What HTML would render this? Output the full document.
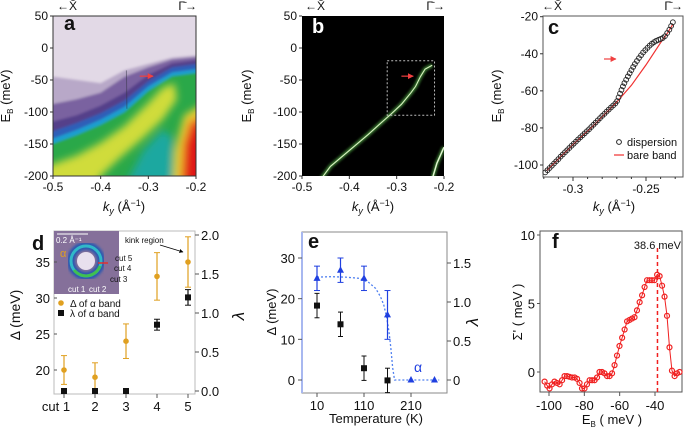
<!DOCTYPE html>
<html><head><meta charset="utf-8"><style>
body{margin:0;background:#fff;}
svg{display:block;font-family:"Liberation Sans",sans-serif;}
</style></head><body>
<svg id="fig" width="685" height="428" viewBox="0 0 685 428" xmlns="http://www.w3.org/2000/svg">
<defs>
<filter id="blur3"><feGaussianBlur stdDeviation="3"/></filter>
<filter id="blur1"><feGaussianBlur stdDeviation="1.2"/></filter>
<filter id="blur5" x="-20%" y="-20%" width="140%" height="140%"><feGaussianBlur stdDeviation="4"/></filter>
<clipPath id="clipA"><rect x="53" y="16" width="143" height="160"/></clipPath>
<clipPath id="clipB"><rect x="302" y="16" width="142" height="160"/></clipPath>
<clipPath id="clipIn"><rect x="54" y="231" width="65" height="63"/></clipPath>
<marker id="arrR" viewBox="0 0 10 10" refX="9" refY="5" markerWidth="5" markerHeight="5" orient="auto"><path d="M0,0L10,5L0,10z" fill="#f04040"/></marker>
<marker id="arrK" viewBox="0 0 10 10" refX="9" refY="5" markerWidth="5" markerHeight="5" orient="auto"><path d="M0,0L10,5L0,10z" fill="#000"/></marker>
</defs>
<g id="root"></g>
</svg>
<script>
// ---------- data ----------
// panel c
const cK=[-0.319,-0.3175,-0.316,-0.3145,-0.313,-0.3115,-0.310,-0.3085,-0.307,-0.3055,-0.304,-0.3025,-0.301,-0.2995,-0.298,-0.2965,-0.295,-0.2935,-0.292,-0.2905,-0.289,-0.2875,-0.286,-0.2845,-0.283,-0.2815,-0.280,-0.2785,-0.277,-0.2755,-0.274,-0.2725,-0.271,-0.2698,-0.2688,-0.2678,-0.2668,-0.2658,-0.2648,-0.2636,-0.2624,-0.2612,-0.26,-0.2588,-0.2576,-0.2562,-0.2548,-0.2534,-0.252,-0.2505,-0.249,-0.2475,-0.246,-0.2445,-0.243,-0.2415,-0.24,-0.2385,-0.237,-0.2355,-0.234,-0.2328,-0.2316];
const cE=[-104,-102.8,-101.6,-100.4,-99.2,-98,-96.8,-95.5,-94.3,-93.1,-92,-90.8,-89.6,-88.5,-87.4,-86.2,-85.1,-84,-82.9,-81.8,-80.7,-79.5,-78.3,-77.1,-75.9,-74.7,-73.5,-72.4,-71.2,-70.1,-69,-67.9,-66.8,-65.5,-63.5,-61.5,-59.5,-57.6,-55.8,-54,-52.2,-50.5,-48.8,-47.1,-45.5,-43.9,-42.3,-40.8,-39.3,-38,-36.8,-35.6,-34.6,-33.7,-33,-32.5,-32,-31.5,-30.5,-28.8,-27,-25,-23];
const bareK=[-0.318,-0.300,-0.285,-0.270,-0.260,-0.250,-0.245,-0.240,-0.235,-0.2315];
const bareE=[-103,-89,-78,-66,-57,-46,-40,-34,-28.5,-24];
const cXTicks=[-0.3,-0.25];
const cYTicks=[-20,-40,-60,-80,-100];
// panel d
const dCuts=["cut 1","2","3","4","5"];
const dDelta=[20,19,24,33,35];
const dDeltaErr=[2,2,2.4,3.3,3.5];
const dLambda=[0,0,0,0.85,1.2];
const dLambdaErr=[0,0,0,0.07,0.1];
const dYTicks=[20,25,30,35];
const dRTicks=[0,0.5,1.0,1.5,2.0];
// panel e
const eTemp=[10,60,110,160,210,260];
const eDelta=[25,27,25,16,0,0];
const eDeltaErr=[3,3,3,6,0,0];
const eBlackT=[10,60,110,160];
const eBlack=[18.3,13.7,2.9,-0.1];
const eBlackErr=[3,3,3,3];
const eFitT=[10,40,70,100,120,135,145,152,158,163,167,171,175,180,200,230,270];
const eFitD=[25.3,25.4,25.3,25,24,22.5,20.5,18.5,15.5,12,8,3,0,0,0,0,0];
const eXTicks=[10,110,210];
const eYTicks=[0,10,20,30];
const eRTicks=[0,0.5,1.0,1.5];
// panel f
const fE=[-102.5,-101,-99.7,-98.3,-96.9,-95.5,-94,-92.6,-91.2,-89.8,-88.4,-87,-85.5,-84.1,-82.7,-81.3,-79.9,-78.5,-77,-75.6,-74.2,-72.8,-71.4,-70,-68.6,-67.1,-65.7,-64.3,-62.9,-61.5,-60.1,-58.6,-57.2,-55.8,-54.4,-53,-51.6,-50.2,-48.7,-47.3,-45.9,-44.5,-43.1,-41.7,-40.3,-38.8,-37.4,-36,-34.6,-33.2,-31.8,-30.4,-28.9,-27.5,-26.1];
const fS=[-0.7,-1.0,-1.2,-0.9,-0.7,-0.8,-0.9,-0.6,-0.3,-0.3,-0.35,-0.4,-0.4,-0.5,-0.8,-1.2,-1.2,-0.9,-0.6,-0.6,-0.6,-0.4,0.0,0.0,-0.1,-0.3,-0.3,-0.1,0.5,1.2,1.9,2.5,3.1,3.7,3.8,3.9,4.0,4.5,5.1,5.6,6.2,6.7,6.7,6.7,6.7,7.1,7.0,6.3,5.5,4.1,1.8,0.1,-0.3,-0.1,0.0];
const fXTicks=[-100,-80,-60,-40];
const fYTicks=[0,5,10];
const fPeak=-38.6;

// ---------- helpers ----------
const NS="http://www.w3.org/2000/svg";
const root=document.getElementById('root');
function mk(tag,attrs,parent,text){const e=document.createElementNS(NS,tag);for(const k in attrs)e.setAttribute(k,attrs[k]);if(text!==undefined)e.textContent=text;(parent||root).appendChild(e);return e;}
function lin(d0,d1,p0,p1){return v=>p0+(v-d0)*(p1-p0)/(d1-d0);}
function txt(x,y,s,size,anchor,parent,extra){const t=mk('text',Object.assign({x:x,y:y,'font-size':size,'text-anchor':anchor||'middle',fill:'#111'},extra||{}),parent,s);return t;}
function ylabel(x,y,parent,parts,size){const t=mk('text',{x:0,y:0,'font-size':size||13,'text-anchor':'middle',transform:`translate(${x},${y}) rotate(-90)`,fill:'#111'},parent);parts.forEach(p=>{const s=mk('tspan',p.a||{},t,p.t);});return t;}
function topArrows(x0,x1,parent){txt(x0,10,"←X̄",12,'start',parent);txt(x1,10,"Γ̄→",12,'end',parent);}
function kLabel(cx,y,parent){const t=mk('text',{x:cx,y:y,'font-size':13,'text-anchor':'middle',fill:'#111'},parent);mk('tspan',{'font-style':'italic'},t,'k');mk('tspan',{'font-size':9,dy:3,'font-style':'italic'},t,'y');mk('tspan',{dy:-3},t,' (Å');mk('tspan',{'font-size':9,dy:-5},t,'−1');mk('tspan',{dy:5},t,')');}
function ebLabel(x,y,parent){const t=mk('text',{x:0,y:0,'font-size':13,'text-anchor':'middle',transform:`translate(${x},${y}) rotate(-90)`,fill:'#111'},parent);mk('tspan',{},t,'E');mk('tspan',{'font-size':8,dy:3},t,'B');mk('tspan',{dy:-3},t,' (meV)');}

// ---------- panel a ----------
(function(){
const g=mk('g',{},root);
const X=lin(-0.5,-0.2,53,196),Y=lin(50,-200,16,176);
const img=mk('g',{'clip-path':'url(#clipA)'},g);
mk('rect',{x:53,y:16,width:143,height:160,fill:'#e2d9e6'},img);
const P=pts=>pts.map(p=>X(p[0])+','+Y(p[1])).join(' ');
const bl=mk('g',{filter:'url(#blur1)'},img);
mk('polygon',{points:P([[-0.5,-45],[-0.45,-50],[-0.4,-55],[-0.35,-35],[-0.3,-25],[-0.25,-15],[-0.17,-10],[-0.17,-230],[-0.55,-230]]),fill:'#b8a8c8'},bl);
mk('polygon',{points:P([[-0.55,-95],[-0.45,-80],[-0.4,-70],[-0.35,-45],[-0.3,-30],[-0.25,-18],[-0.17,-12],[-0.17,-230],[-0.55,-230]]),fill:'#7a62a0'},bl);
mk('polygon',{points:P([[-0.55,-125],[-0.45,-105],[-0.4,-90],[-0.35,-70],[-0.3,-42],[-0.25,-24],[-0.17,-16],[-0.17,-230],[-0.55,-230]]),fill:'#55408a'},bl);
mk('polygon',{points:P([[-0.55,-143],[-0.45,-117],[-0.4,-102],[-0.35,-82],[-0.3,-52],[-0.25,-30],[-0.17,-22],[-0.17,-230],[-0.55,-230]]),fill:'#2f5fb8'},bl);
mk('polygon',{points:P([[-0.55,-155],[-0.45,-128],[-0.4,-112],[-0.35,-92],[-0.3,-60],[-0.25,-38],[-0.17,-30],[-0.17,-230],[-0.55,-230]]),fill:'#1a9fd0'},bl);
mk('polygon',{points:P([[-0.55,-163],[-0.45,-136],[-0.4,-120],[-0.35,-100],[-0.3,-67],[-0.25,-44],[-0.17,-36],[-0.17,-230],[-0.55,-230]]),fill:'#2aa84a'},bl);
const bb=mk('g',{filter:'url(#blur5)'},img);
mk('polygon',{points:P([[-0.55,-195],[-0.45,-168],[-0.4,-148],[-0.35,-122],[-0.3,-86],[-0.27,-62],[-0.245,-55],[-0.24,-80],[-0.27,-112],[-0.31,-140],[-0.36,-172],[-0.4,-200],[-0.42,-230],[-0.55,-230]]),fill:'#d0dc3a'},bb);
mk('polygon',{points:P([[-0.36,-230],[-0.31,-160],[-0.27,-128],[-0.25,-140],[-0.25,-230]]),fill:'#1aa8a0'},bb);
mk('polygon',{points:P([[-0.25,-230],[-0.245,-160],[-0.225,-105],[-0.17,-80],[-0.17,-230]]),fill:'#e6d030'},bb);
mk('polygon',{points:P([[-0.235,-230],[-0.228,-150],[-0.215,-115],[-0.17,-100],[-0.17,-230]]),fill:'#ea7020'},bb);
mk('polygon',{points:P([[-0.225,-230],[-0.22,-150],[-0.205,-120],[-0.17,-110],[-0.17,-230]]),fill:'#e01818'},bb);
mk('line',{x1:X(-0.346),y1:Y(-35),x2:X(-0.345),y2:Y(-95),stroke:'#334',"stroke-width":1,opacity:0.5},img);
mk('line',{x1:X(-0.318),y1:Y(-44),x2:X(-0.29),y2:Y(-44),stroke:'#f04040','stroke-width':1.2,'marker-end':'url(#arrR)'},g);
mk('rect',{x:53,y:16,width:143,height:160,fill:'none',stroke:'#333','stroke-width':1},g);
[50,0,-50,-100,-150,-200].forEach(v=>{mk('line',{x1:50,y1:Y(v),x2:53,y2:Y(v),stroke:'#333'},g);txt(48,Y(v)+4,String(v),12,'end',g);});
[-0.5,-0.4,-0.3,-0.2].forEach(v=>{mk('line',{x1:X(v),y1:176,x2:X(v),y2:179,stroke:'#333'},g);txt(X(v),191,v.toFixed(1),12,'middle',g);});
txt(64,30,'a',20,'start',g,{'font-weight':'bold'});
topArrows(57,197,g);kLabel(124,211,g);ebLabel(10,96,g);
})();

// ---------- panel b ----------
(function(){
const g=mk('g',{},root);
const X=lin(-0.5,-0.2,302,444),Y=lin(50,-200,16,176);
const img=mk('g',{'clip-path':'url(#clipB)'},g);
mk('rect',{x:302,y:16,width:142,height:160,fill:'#000'},img);
const band=[[-0.46,-205],[-0.44,-185],[-0.4,-160],[-0.36,-135],[-0.33,-115],[-0.31,-102],[-0.29,-88],[-0.27,-70],[-0.26,-60],[-0.25,-45],[-0.24,-33],[-0.225,-27]];
const d=band.map((p,i)=>(i?'L':'M')+X(p[0])+','+Y(p[1])).join(' ');
mk('path',{d:d,stroke:'#3a7a30',"stroke-width":4,fill:'none',filter:'url(#blur1)'},img);
mk('path',{d:d,stroke:'#d8f0c0',"stroke-width":1.1,fill:'none'},img);
const b2=[[-0.225,-205],[-0.215,-180],[-0.2,-155]];
const d2=b2.map((p,i)=>(i?'L':'M')+X(p[0])+','+Y(p[1])).join(' ');
mk('path',{d:d2,stroke:'#3a7a30',"stroke-width":4,fill:'none',filter:'url(#blur1)'},img);
mk('path',{d:d2,stroke:'#e0f5d0',"stroke-width":1.5,fill:'none'},img);
mk('rect',{x:X(-0.32),y:Y(-20),width:X(-0.22)-X(-0.32),height:Y(-105)-Y(-20),fill:'none',stroke:'#bbb','stroke-dasharray':'2,2'},g);
mk('line',{x1:X(-0.29),y1:Y(-44),x2:X(-0.265),y2:Y(-44),stroke:'#f04040','stroke-width':1.2,'marker-end':'url(#arrR)'},g);
[50,0,-50,-100,-150,-200].forEach(v=>{mk('line',{x1:299,y1:Y(v),x2:302,y2:Y(v),stroke:'#333'},g);txt(297,Y(v)+4,String(v),12,'end',g);});
[-0.5,-0.4,-0.3,-0.2].forEach(v=>{mk('line',{x1:X(v),y1:176,x2:X(v),y2:179,stroke:'#333'},g);txt(X(v),191,v.toFixed(1),12,'middle',g);});
txt(312,33,'b',20,'start',g,{'font-weight':'bold',fill:'#fff'});
topArrows(305,445,g);kLabel(373,211,g);ebLabel(251,96,g);
})();

// ---------- panel c ----------
(function(){
const g=mk('g',{},root);
const X=lin(-0.3,-0.25,573,646),Y=lin(-20,-100,16.7,165);
mk('rect',{x:543,y:16,width:140,height:161,fill:'#fff',stroke:'#555'},g);
mk('path',{d:bareK.map((k,i)=>(i?'L':'M')+X(k)+','+Y(bareE[i])).join(' '),stroke:'#f03030',"stroke-width":1.2,fill:'none'},g);
cK.forEach((k,i)=>{const c=mk('circle',{cx:X(k),cy:Y(cE[i]),r:2.4,fill:'none',stroke:'#222','stroke-width':0.9},g);

});
mk('line',{x1:604,y1:59,x2:616,y2:59,stroke:'#f04040','stroke-width':1.2,'marker-end':'url(#arrR)'},g);
cYTicks.forEach(v=>{mk('line',{x1:540,y1:Y(v),x2:543,y2:Y(v),stroke:'#333'},g);txt(538,Y(v)+4,String(v),12,'end',g);});
for(let v=-0.32;v<=-0.225;v+=0.01){mk('line',{x1:X(v),y1:177,x2:X(v),y2:179,stroke:'#333'},g);}
cXTicks.forEach(v=>{mk('line',{x1:X(v),y1:177,x2:X(v),y2:181,stroke:'#333'},g);txt(X(v),193,String(v),12,'middle',g);});
txt(548,34,'c',20,'start',g,{'font-weight':'bold'});
const l=mk('g',{},g);
mk('circle',{cx:619,cy:142,r:2.4,fill:'none',stroke:'#222'},l);txt(627,146,'dispersion',11,'start',l);
mk('line',{x1:614,y1:155,x2:624,y2:155,stroke:'#f03030','stroke-width':1.2},l);txt(627,159,'bare band',11,'start',l);
topArrows(542,683,g);kLabel(614,211,g);ebLabel(501,96,g);
})();

// ---------- panel d ----------
(function(){
const g=mk('g',{},root);
const X=i=>64+i*31,Y=lin(20,35,370,262),R=lin(0,2,391,235);
mk('rect',{x:54,y:231,width:141,height:163,fill:'#fff',stroke:'#bbb'},g);
const ins=mk('g',{'clip-path':'url(#clipIn)'},g);
mk('rect',{x:54,y:231,width:65,height:63,fill:'#85709a'},ins);
mk('circle',{cx:86,cy:261,r:15,fill:'none',stroke:'#2a58b0','stroke-width':8,filter:'url(#blur1)'},ins);
mk('circle',{cx:86,cy:261,r:15,fill:'none',stroke:'#30b8c8','stroke-width':3},ins);
mk('path',{d:'M74,270 A15,15 0 0 0 100,266',fill:'none',stroke:'#40c050','stroke-width':3},ins);
mk('circle',{cx:86,cy:261,r:9,fill:'#e8e0ee'},ins);
mk('line',{x1:57,y1:234,x2:88,y2:234,stroke:'#fff','stroke-width':1},ins);
txt(56,243,'0.2 Å⁻¹',8,'start',ins,{fill:'#fff'});
txt(60,257,'α',11,'start',ins,{fill:'#e0a020'});
txt(68,292,'cut 1',8,'start',ins,{fill:'#fff'});txt(89,292,'cut 2',8,'start',ins,{fill:'#fff'});
mk('line',{x1:98,y1:263,x2:108,y2:263,stroke:'#e03030','stroke-width':1.5},ins);
txt(115,261,'cut 5',8,'start',g);txt(114,271,'cut 4',8,'start',g);txt(110,282,'cut 3',8,'start',g);
const l=mk('g',{},g);
mk('circle',{cx:61,cy:303,r:2.8,fill:'#e0a020'},l);txt(70,307,'Δ of α band',10,'start',l);
mk('rect',{x:58,y:310,width:6,height:6,fill:'#111'},l);txt(70,317,'λ of α band',10,'start',l);
txt(125,243,'kink region',8,'start',g);
mk('line',{x1:160,y1:245,x2:183,y2:252,stroke:'#000','stroke-width':0.8,'marker-end':'url(#arrK)'},g);
dDelta.forEach((v,i)=>{
 mk('line',{x1:X(i),y1:Y(v-dDeltaErr[i]),x2:X(i),y2:Y(v+dDeltaErr[i]),stroke:'#e0a020','stroke-width':1.2},g);
 [v-dDeltaErr[i],v+dDeltaErr[i]].forEach(e=>mk('line',{x1:X(i)-3,y1:Y(e),x2:X(i)+3,y2:Y(e),stroke:'#e0a020'},g));
 const c=mk('circle',{cx:X(i),cy:Y(v),r:2.8,fill:'#e0a020'},g);
 
 
});
dLambda.forEach((v,i)=>{
 if(dLambdaErr[i]>0){mk('line',{x1:X(i),y1:R(v-dLambdaErr[i]),x2:X(i),y2:R(v+dLambdaErr[i]),stroke:'#111','stroke-width':1.2},g);
 [v-dLambdaErr[i],v+dLambdaErr[i]].forEach(e=>mk('line',{x1:X(i)-3,y1:R(e),x2:X(i)+3,y2:R(e),stroke:'#111'},g));}
 const r=mk('rect',{x:X(i)-3,y:R(v)-3,width:6,height:6,fill:'#111'},g);
 
 
});
dYTicks.forEach(v=>{mk('line',{x1:54,y1:Y(v),x2:57,y2:Y(v),stroke:'#555'},g);txt(50,Y(v)+5,String(v),13,'end',g);});
dRTicks.forEach(v=>{mk('line',{x1:195,y1:R(v),x2:199,y2:R(v),stroke:'#555'},g);txt(201,R(v)+5,v.toFixed(1),13,'start',g);});
dCuts.forEach((c,i)=>{mk('line',{x1:X(i),y1:394,x2:X(i),y2:398,stroke:'#555'},g);txt(X(i)-(i===0?8:0),411,c,13,'middle',g);});
txt(32,250,'d',20,'start',g,{'font-weight':'bold'});
ylabel(20,315,g,[{t:'Δ (meV)'}],14);
ylabel(244,316,g,[{t:'λ',a:{'font-style':'italic'}}],17);
})();

// ---------- panel e ----------
(function(){
const g=mk('g',{},root);
const X=lin(10,210,317,411),Y=lin(0,30,380,258),R=lin(0,1.5,380,263);
mk('rect',{x:302,y:232,width:145,height:161,fill:'#fff',stroke:'#888'},g);
mk('line',{x1:302,y1:232,x2:302,y2:393,stroke:'#a8b8f0','stroke-width':2},g);
mk('path',{d:eFitT.map((t,i)=>(i?'L':'M')+X(t)+','+Y(eFitD[i])).join(' '),stroke:'#5080f0','stroke-width':1.3,'stroke-dasharray':'2,2',fill:'none'},g);
eBlack.forEach((v,i)=>{const x=X(eBlackT[i]);
 mk('line',{x1:x,y1:Y(v-eBlackErr[i]),x2:x,y2:Y(v+eBlackErr[i]),stroke:'#111'},g);
 [v-eBlackErr[i],v+eBlackErr[i]].forEach(e=>mk('line',{x1:x-2.5,y1:Y(e),x2:x+2.5,y2:Y(e),stroke:'#111'},g));
 const r=mk('rect',{x:x-3,y:Y(v)-3,width:6,height:6,fill:'#111'},g);
 
 });
eDelta.forEach((v,i)=>{const x=X(eTemp[i]);
 if(eDeltaErr[i]>0){mk('line',{x1:x,y1:Y(v-eDeltaErr[i]),x2:x,y2:Y(v+eDeltaErr[i]),stroke:'#2040e0','stroke-width':1.2},g);
 [v-eDeltaErr[i],v+eDeltaErr[i]].forEach(e=>mk('line',{x1:x-3,y1:Y(e),x2:x+3,y2:Y(e),stroke:'#2040e0'},g));}
 const p=mk('polygon',{points:`${x},${Y(v)-4} ${x-3.5},${Y(v)+2.5} ${x+3.5},${Y(v)+2.5}`,fill:'#2040e0'},g);
 
 });
txt(418,372,'α',14,'middle',g,{fill:'#2040e0'});
eYTicks.forEach(v=>{mk('line',{x1:298,y1:Y(v),x2:302,y2:Y(v),stroke:'#555'},g);txt(295,Y(v)+5,String(v),13,'end',g);});
eRTicks.forEach(v=>{mk('line',{x1:447,y1:R(v),x2:451,y2:R(v),stroke:'#555'},g);txt(453,R(v)+5,v===0?'0':v.toFixed(1),13,'start',g);});
eXTicks.forEach(v=>{mk('line',{x1:X(v),y1:393,x2:X(v),y2:397,stroke:'#555'},g);txt(X(v),410,String(v),13,'middle',g);});
txt(308,248,'e',20,'start',g,{'font-weight':'bold'});
txt(376,423,'Temperature (K)',13,'middle',g);
ylabel(276,312,g,[{t:'Δ (meV)'}],13);
ylabel(478,322,g,[{t:'λ',a:{'font-style':'italic'}}],17);
})();

// ---------- panel f ----------
(function(){
const g=mk('g',{},root);
const X=lin(-100,-40,549,655),Y=lin(0,10,372,235);
mk('rect',{x:540,y:231,width:142,height:161,fill:'#fff',stroke:'#555'},g);
mk('line',{x1:X(fPeak),y1:248,x2:X(fPeak),y2:392,stroke:'#f02020','stroke-width':1.5,'stroke-dasharray':'4,3'},g);
txt(X(fPeak),249,'38.6 meV',11,'middle',g);
mk('path',{d:fE.map((e,i)=>(i?'L':'M')+X(e)+','+Y(fS[i])).join(' '),stroke:'#f02020','stroke-width':1,fill:'none'},g);
fE.forEach((e,i)=>{const c=mk('circle',{cx:X(e),cy:Y(fS[i]),r:2.5,fill:'none',stroke:'#f02020','stroke-width':1.2},g);
 
 });
fYTicks.forEach(v=>{mk('line',{x1:537,y1:Y(v),x2:540,y2:Y(v),stroke:'#555'},g);txt(535,Y(v)+5,String(v),13,'end',g);});
fXTicks.forEach(v=>{mk('line',{x1:X(v),y1:392,x2:X(v),y2:396,stroke:'#555'},g);txt(X(v),410,String(v),13,'middle',g);});
txt(552,248,'f',20,'start',g,{'font-weight':'bold'});
const t=mk('text',{x:612,y:424,'font-size':13,'text-anchor':'middle',fill:'#111'},g);mk('tspan',{},t,'E');mk('tspan',{'font-size':8,dy:3},t,'B');mk('tspan',{dy:-3},t,' ( meV )');
ylabel(522,312,g,[{t:"Σ' ( meV )"}],13);
})();
</script>
</body></html>
